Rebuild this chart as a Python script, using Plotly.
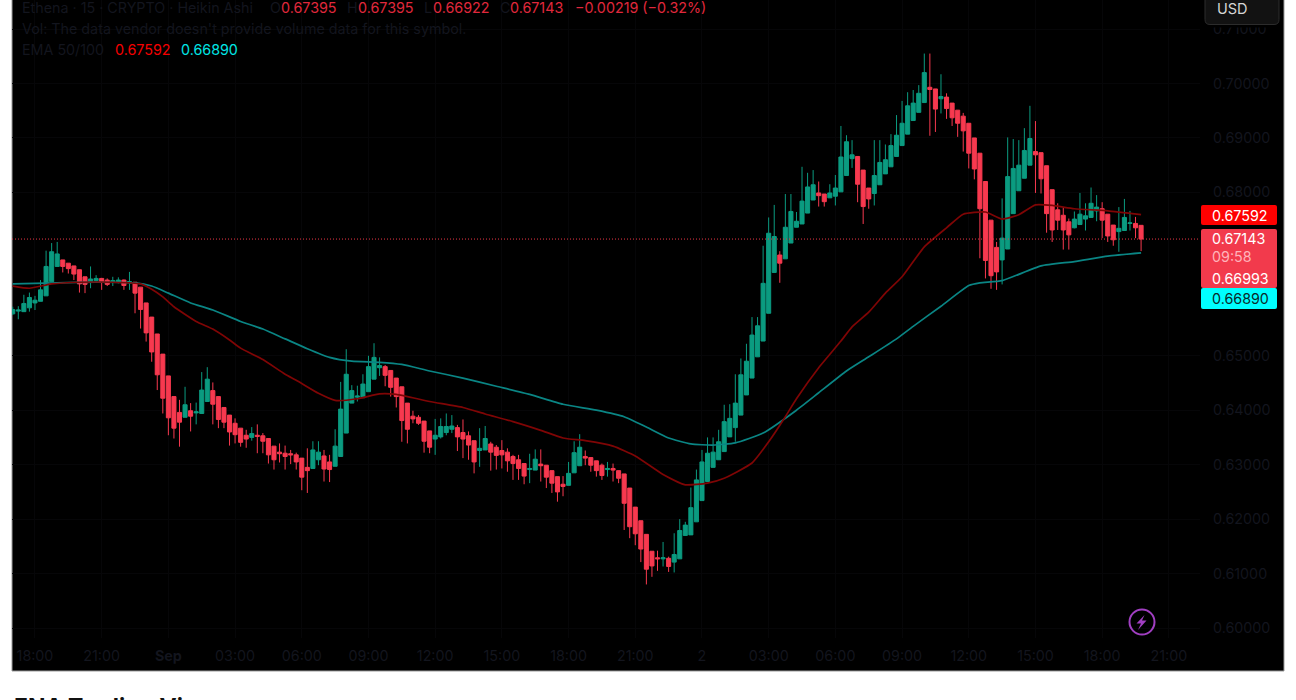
import pandas as pd
import plotly.graph_objects as go

W, H = 1296, 700

# ---- data (15 minute Heikin Ashi candles) ----
start_time = "2025-08-31 17:00"
opens = [
    .6577,.6582,.6581,.6588,.6597,.6600,.6610,.6636,.6664,.6676,
    .6670,.6665,.6658,.6645,.6636,.6638,.6642,.6639,.6635,.6635,
    .6639,.6634,.6635,.6626,.6597,.6571,.6540,.6503,.6463,.6425,
    .6396,.6387,.6399,.6395,.6394,.6416,.6436,.6425,.6405,.6391,
    .6376,.6367,.6354,.6350,.6354,.6353,.6348,.6334,.6323,.6321,
    .6320,.6318,.6312,.6295,.6293,.6309,.6316,.6305,.6297,.6315,
    .6358,.6413,.6424,.6423,.6434,.6457,.6478,.6480,.6473,.6459,
    .6443,.6413,.6389,.6387,.6380,.6362,.6347,.6351,.6359,.6365,
    .6368,.6359,.6353,.6344,.6326,.6327,.6338,.6332,.6326,.6323,
    .6315,.6309,.6302,.6291,.6290,.6301,.6299,.6289,.6278,.6264,
    .6262,.6285,.6298,.6315,.6313,.6307,.6299,.6291,.6293,.6289,
    .6283,.6257,.6222,.6197,.6172,.6141,.6129,.6127,.6128,.6121,
    .6127,.6170,.6171,.6195,.6234,.6269,.6295,.6309,.6324,.6351,
    .6368,.6391,.6428,.6459,.6498,.6527,.6578,.6653,.6685,.6678,
    .6707,.6736,.6742,.6762,.6786,.6799,.6797,.6790,.6793,.6801,
    .6831,.6862,.6866,.6841,.6808,.6798,.6814,.6834,.6847,.6866,
    .6886,.6907,.6932,.6947,.6965,.6993,.6990,.6972,.6975,.6964,
    .6951,.6940,.6927,.6900,.6872,.6820,.6749,.6699,.6676,.6696,
    .6761,.6803,.6826,.6850,.6875,.6873,.6849,.6805,.6768,.6758,
    .6746,.6735,.6741,.6751,.6754,.6766,.6770,.6760,.6740,.6728,
    .6730,.6743,.6743,.67395,
]
highs = [
    .6590,.6591,.6612,.6616,.6610,.6639,.6693,.6707,.6709,.6676,
    .6670,.6665,.6658,.6645,.6664,.6648,.6643,.6642,.6645,.6644,
    .6640,.6654,.6635,.6626,.6597,.6571,.6540,.6503,.6463,.6425,
    .6419,.6443,.6413,.6414,.6470,.6479,.6451,.6425,.6405,.6391,
    .6385,.6367,.6364,.6369,.6374,.6358,.6348,.6334,.6339,.6335,
    .6327,.6322,.6312,.6330,.6343,.6343,.6327,.6318,.6365,.6452,
    .6512,.6446,.6445,.6466,.6500,.6523,.6497,.6483,.6473,.6459,
    .6443,.6413,.6399,.6391,.6380,.6362,.6384,.6385,.6394,.6391,
    .6373,.6383,.6361,.6344,.6367,.6371,.6342,.6336,.6345,.6330,
    .6318,.6318,.6302,.6320,.6328,.6328,.6299,.6289,.6278,.6279,
    .6305,.6343,.6356,.6326,.6313,.6307,.6302,.6305,.6302,.6289,
    .6283,.6257,.6222,.6197,.6172,.6141,.6142,.6158,.6131,.6174,
    .6200,.6195,.6258,.6291,.6327,.6350,.6350,.6364,.6410,.6411,
    .6466,.6495,.6522,.6571,.6571,.6702,.6754,.6777,.6692,.6797,
    .6797,.6764,.6847,.6836,.6841,.6820,.6797,.6815,.6832,.6922,
    .6905,.6896,.6866,.6841,.6808,.6896,.6896,.6888,.6907,.6942,
    .6968,.6984,.6988,.6997,.7055,.7055,.6990,.7017,.6982,.6964,
    .6951,.6946,.6927,.6900,.6872,.6820,.6749,.6709,.6789,.6901,
    .6898,.6896,.6918,.6959,.6931,.6873,.6849,.6805,.6780,.6772,
    .6752,.6765,.6799,.6780,.6809,.6795,.6782,.6760,.6740,.6773,
    .6788,.6766,.6755,.67395,
]
lows = [
    .6575,.6567,.6581,.6581,.6584,.6600,.6610,.6636,.6664,.6653,
    .6651,.6639,.6616,.6615,.6624,.6636,.6621,.6628,.6628,.6633,
    .6621,.6621,.6578,.6550,.6526,.6489,.6437,.6394,.6354,.6348,
    .6333,.6387,.6361,.6374,.6394,.6416,.6374,.6367,.6367,.6335,
    .6339,.6333,.6331,.6344,.6321,.6321,.6302,.6291,.6304,.6291,
    .6301,.6291,.6253,.6248,.6293,.6299,.6269,.6268,.6297,.6315,
    .6358,.6413,.6416,.6423,.6434,.6457,.6463,.6444,.6425,.6405,
    .6342,.6339,.6376,.6373,.6322,.6321,.6318,.6348,.6354,.6358,
    .6325,.6312,.6309,.6284,.6296,.6327,.6289,.6291,.6293,.6287,
    .6272,.6272,.6264,.6266,.6290,.6269,.6257,.6248,.6232,.6242,
    .6262,.6285,.6298,.6299,.6287,.6278,.6272,.6278,.6269,.6266,
    .6180,.6165,.6152,.6121,.6080,.6094,.6105,.6113,.6103,.6102,
    .6127,.6170,.6171,.6195,.6234,.6269,.6295,.6309,.6324,.6351,
    .6342,.6391,.6428,.6459,.6498,.6527,.6578,.6653,.6634,.6678,
    .6707,.6736,.6742,.6762,.6786,.6774,.6774,.6790,.6776,.6801,
    .6831,.6845,.6782,.6742,.6770,.6776,.6814,.6834,.6847,.6866,
    .6886,.6907,.6932,.6947,.6965,.6904,.6911,.6945,.6935,.6922,
    .6902,.6875,.6844,.6824,.6679,.6642,.6623,.6621,.6631,.6696,
    .6761,.6803,.6826,.6850,.6799,.6798,.6726,.6709,.6731,.6695,
    .6695,.6734,.6741,.6730,.6754,.6747,.6716,.6709,.6702,.6691,
    .6730,.6730,.6716,.66922,
]
closes = [
    .6585,.6584,.6596,.6607,.6602,.6621,.6664,.6691,.6687,.6664,
    .6660,.6650,.6632,.6631,.6641,.6642,.6635,.6631,.6638,.6639,
    .6629,.6636,.6615,.6585,.6542,.6507,.6465,.6422,.6386,.6367,
    .6378,.6410,.6389,.6397,.6437,.6457,.6411,.6383,.6378,.6360,
    .6355,.6341,.6347,.6357,.6352,.6343,.6318,.6309,.6320,.6315,
    .6318,.6305,.6277,.6289,.6327,.6323,.6292,.6291,.6334,.6402,
    .6466,.6436,.6426,.6448,.6480,.6497,.6482,.6464,.6442,.6425,
    .6381,.6365,.6384,.6376,.6343,.6332,.6354,.6370,.6370,.6371,
    .6351,.6347,.6336,.6305,.6330,.6348,.6323,.6317,.6318,.6307,
    .6302,.6293,.6279,.6293,.6310,.6298,.6277,.6266,.6250,.6260,
    .6284,.6322,.6332,.6312,.6299,.6289,.6280,.6293,.6290,.6275,
    .6229,.6186,.6173,.6145,.6108,.6114,.6127,.6129,.6113,.6135,
    .6179,.6189,.6221,.6272,.6305,.6321,.6323,.6342,.6379,.6385,
    .6413,.6465,.6490,.6538,.6555,.6633,.6725,.6719,.6670,.6736,
    .6765,.6747,.6784,.6810,.6814,.6794,.6783,.6799,.6808,.6865,
    .6893,.6869,.6815,.6774,.6788,.6831,.6855,.6860,.6886,.6905,
    .6927,.6959,.6964,.6982,.7020,.6989,.6953,.6976,.6954,.6937,
    .6927,.6913,.6872,.6843,.6770,.6675,.6647,.6654,.6716,.6829,
    .6844,.6850,.6877,.6899,.6869,.6825,.6761,.6731,.6749,.6731,
    .6722,.6751,.6760,.6757,.6780,.6773,.6749,.6720,.6713,.6734,
    .6754,.6744,.6735,.67143,
]
ema100_bars = [0,8,15,22,25,28,32,36,41,45,49,53,57,61,66,70,75,81,87,93,99,105,110,114,118,122,
               126,130,135,141,145,150,154,159,162,167,172,174,178,185,191,197,203]
ema100_vals = [.6632,.6634,.6635,.6634,.6628,.6615,.6597,.6584,.6563,.6549,.6531,.6513,.6497,.6490,
               .6488,.6484,.6472,.6459,.6444,.6429,.6411,.6400,.6388,.6369,.6349,.6338,.6336,.6340,
               .6358,.6400,.6432,.6472,.6498,.6531,.6554,.6591,.6629,.6634,.6638,.6665,.6673,.6683,.66890]
ema50_bars = [0,3,7,12,18,23,25,27,29,33,36,39,41,45,49,51,55,58,62,66,69,75,81,85,90,95,99,103,108,
              112,117,121,125,128,133,136,139,141,145,149,151,154,157,160,164,168,171,175,178,181,
              184,187,191,197,203]
ema50_vals = [.6628,.6624,.6632,.6635,.6635,.6632,.6622,.6608,.6590,.6563,.6549,.6529,.6514,.6493,
              .6466,.6455,.6431,.6418,.6421,.6430,.6429,.6416,.6405,.6393,.6379,.6363,.6349,.6344,
              .6334,.6316,.6282,.6263,.6266,.6275,.6303,.6342,.6388,.6421,.6478,.6527,.6553,.6580,
              .6615,.6645,.6700,.6735,.6760,.6764,.6751,.6759,.6777,.6776,.6770,.6766,.67592]
last_close = 0.67143
price_ticks = [0.60, 0.61, 0.62, 0.63, 0.64, 0.65, 0.68, 0.69, 0.70, 0.71]
time_tick_vals = ["2025-08-31 18:00", "2025-08-31 21:00", "2025-09-01 00:00", "2025-09-01 03:00",
                  "2025-09-01 06:00", "2025-09-01 09:00", "2025-09-01 12:00", "2025-09-01 15:00",
                  "2025-09-01 18:00", "2025-09-01 21:00", "2025-09-02 00:00", "2025-09-02 03:00",
                  "2025-09-02 06:00", "2025-09-02 09:00", "2025-09-02 12:00", "2025-09-02 15:00",
                  "2025-09-02 18:00", "2025-09-02 21:00"]
time_tick_text = ["18:00", "21:00", "<b>Sep</b>", "03:00", "06:00", "09:00", "12:00", "15:00", "18:00",
                  "21:00", "2", "03:00", "06:00", "09:00", "12:00", "15:00", "18:00", "21:00"]

# ---- styling ----
GREEN, RED = "#0b9b80", "#f7394f"
EMA_RED, EMA_TEAL = "#7f0505", "#0a8584"
DIM = "#13151e"
GRID = "#060608"
FONT = "Inter"


def fx(x):
    return x / W


def fy(y):
    return 1 - y / H


times = list(pd.date_range(start_time, periods=len(opens), freq="15min"))

fig = go.Figure()
fig.add_trace(go.Candlestick(
    x=times, open=opens, high=highs, low=lows, close=closes,
    whiskerwidth=0,
    increasing=dict(line=dict(color=GREEN, width=1), fillcolor=GREEN),
    decreasing=dict(line=dict(color=RED, width=1), fillcolor=RED),
    hoverinfo="skip",
))
fig.add_trace(go.Scatter(x=[times[i] for i in ema100_bars], y=ema100_vals, mode="lines",
                         line=dict(color=EMA_TEAL, width=1.7, shape="spline", smoothing=0.5), hoverinfo="skip"))
fig.add_trace(go.Scatter(x=[times[i] for i in ema50_bars], y=ema50_vals, mode="lines",
                         line=dict(color=EMA_RED, width=1.7, shape="spline", smoothing=0.5), hoverinfo="skip"))


def rrect(x0, y0, x1, y1, r=2):
    a, b, c, d = fx(x0), fx(x1), fy(y0), fy(y1)
    rx, ry = r / W, r / H
    return (f"M{a+rx},{c} L{b-rx},{c} Q{b},{c} {b},{c-ry} L{b},{d+ry} Q{b},{d} {b-rx},{d} "
            f"L{a+rx},{d} Q{a},{d} {a},{d+ry} L{a},{c-ry} Q{a},{c} {a+rx},{c} Z")


def box(x0, y0, x1, y1, fill, line=None, r=2, layer="above"):
    return dict(type="path", xref="paper", yref="paper", path=rrect(x0, y0, x1, y1, r), fillcolor=fill,
                line=dict(color=line or fill, width=1 if line else 0), layer=layer)


shapes = [
    # dark panel with thin grey edge
    dict(type="rect", xref="paper", yref="paper", x0=fx(12), x1=fx(1284), y0=fy(671), y1=fy(-2),
         fillcolor="#000000", line=dict(color="#9b9b9b", width=1), layer="below"),
    # last price dotted line
    dict(type="line", xref="paper", yref="y", x0=fx(12), x1=fx(1200), y0=last_close, y1=last_close,
         line=dict(color="#ea3546", width=1, dash="1px,2px"), layer="above"),
    # hide upper part of top tick, USD button
    dict(type="rect", xref="paper", yref="paper", x0=fx(1203), x1=fx(1282), y0=fy(27.5), y1=fy(0),
         fillcolor="#000000", line=dict(width=0), layer="above"),
    box(1205, -6, 1279, 24.5, "#121212", "#2c2c2c", r=5),
    # price tags
    box(1201, 205, 1277, 225, "#ff0000"),
    box(1201, 229, 1277, 288, "#f23a4c"),
    box(1201, 288, 1277, 309, "#00ffff"),
    # lightning badge
    dict(type="circle", xref="paper", yref="paper", x0=fx(1129.5), x1=fx(1154.5), y0=fy(634.5), y1=fy(609.5),
         fillcolor="rgba(0,0,0,0)", line=dict(color="#a13fc2", width=2), layer="above"),
]
bolt = [(1144.5, 615), (1136.5, 623.5), (1141, 623.5), (1138, 630), (1146.5, 620.5), (1142, 620.5)]
shapes.append(dict(type="path", xref="paper", yref="paper",
                   path="M" + " L".join(f"{fx(a)},{fy(b)}" for a, b in bolt) + " Z",
                   fillcolor="#a13fc2", line=dict(width=0), layer="above"))


def note(x, y, text, color=DIM, size=14.3, anchor="left", weight=None):
    t = f"<b>{text}</b>" if weight else text
    return dict(xref="paper", yref="paper", x=fx(x), y=fy(y), xanchor=anchor, yanchor="middle",
                text=t, showarrow=False, font=dict(family=FONT, color=color, size=size), borderpad=0, borderwidth=0)


VAL = "#e0283c"
annots = [
    note(22, 7, "Ethena · 15 · CRYPTO · Heikin Ashi"),
    note(270, 7, "O"), note(281, 7, "0.67395", VAL),
    note(347, 7, "H"), note(358, 7, "0.67395", VAL),
    note(424, 7, "L"), note(433, 7, "0.66922", VAL),
    note(500, 7, "C"), note(510, 7, "0.67143", VAL),
    note(575, 7, "−0.00219 (−0.32%)", VAL),
    note(22, 28, "Vol: The data vendor doesn't provide volume data for this symbol."),
    note(22, 49, "EMA 50/100"),
    note(115, 49, "0.67592", "#f50000"), note(181, 49, "0.66890", "#00e6e6"),
    note(1217, 8, "USD", "#d6d6d6", 14.5),
    note(1212, 215, "0.67592", "#ffffff"),
    note(1212, 238.5, "0.67143", "#ffffff"),
    note(1212, 256.5, "09:58", "#ffb3ba"),
    note(1212, 278, "0.66993", "#ffffff"),
    note(1212, 298, "0.66890", "#0a2a2a"),
    note(14, 707, "ENA Trading View", "#111111", 23, weight=True),
]

fig.update_layout(
    width=W, height=H,
    margin=dict(l=0, r=0, t=0, b=0, autoexpand=False),
    paper_bgcolor="#ffffff", plot_bgcolor="#000000",
    showlegend=False, hovermode=False, boxgap=0.27, boxgroupgap=0,
    font=dict(family=FONT, size=14.3, color=DIM),
    shapes=shapes, annotations=annots,
    xaxis=dict(domain=[fx(12), fx(1200)], range=["2025-08-31 16:58", "2025-09-02 22:24"],
               rangeslider=dict(visible=False), tickmode="array", tickvals=time_tick_vals, ticktext=time_tick_text,
               showgrid=True, gridcolor=GRID, gridwidth=1, zeroline=False, showline=False, ticks="",
               ticklabelstandoff=8, tickangle=0, tickfont=dict(family=FONT, size=14.3, color=DIM)),
    yaxis=dict(domain=[fy(638), 1], range=[0.6 + (628 - 638) / 5445, 0.6 + 628 / 5445], side="right",
               tickmode="array", tickvals=price_ticks, tickformat=".5f",
               showgrid=True, gridcolor=GRID, gridwidth=1, zeroline=False, showline=False, ticks="",
               ticklabelstandoff=12, tickfont=dict(family=FONT, size=14.3, color=DIM)),
)

# the page's default body margin would push the whole chart 8 px in
fig.write_html("out.html", config={"displayModeBar": False},
               post_script="document.body.style.margin='0';document.documentElement.style.overflow='hidden';")
